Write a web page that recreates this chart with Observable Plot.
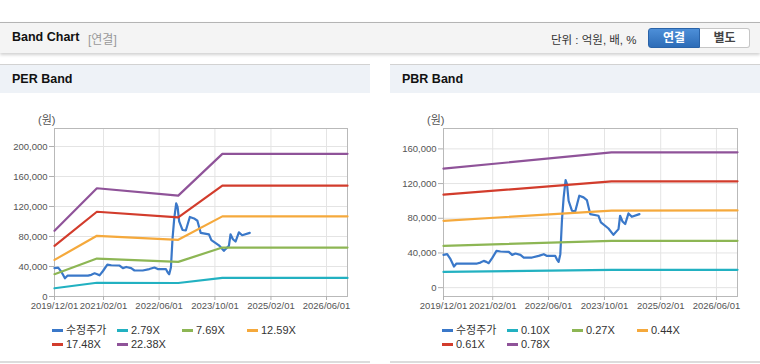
<!DOCTYPE html>
<html><head><meta charset="utf-8">
<script src="https://cdn.jsdelivr.net/npm/d3@7"></script>
<script src="https://cdn.jsdelivr.net/npm/@observablehq/plot@0.6"></script>
<style>
body{margin:0;width:760px;height:364px;overflow:hidden;background:#fff;position:relative;font-family:"Liberation Sans","Noto Sans CJK KR",sans-serif;}
.abs{position:absolute;white-space:nowrap;}
.hdr{left:0;top:22px;width:760px;height:30px;background:#f4f4f4;border-top:1px solid #b4b4b4;box-shadow:0 2px 3px rgba(0,0,0,0.18);}
.ptitle{top:64px;height:28px;background:#eef2f7;border-top:1px solid #d2d2d2;}
.pbottom{top:361px;height:0;border-top:2px solid #dcdcdc;}
.bold{font-weight:bold;color:#111;}
.btn{top:28px;height:18px;line-height:18px;text-align:center;font-size:12px;font-weight:bold;}
.leg{font-size:11px;color:#333;line-height:12px;}
.leg i{display:inline-block;width:11px;height:3px;vertical-align:middle;margin-right:3px;position:relative;top:-1px;}
.unit{font-size:11px;color:#555;}
</style></head><body>
<div class="abs hdr"></div>
<div class="abs bold" style="left:12px;top:30px;font-size:12.5px;">Band Chart</div>
<div class="abs" style="left:88px;top:30px;font-size:12px;color:#999;">[연결]</div>
<div class="abs" style="left:551px;top:31px;font-size:11.5px;color:#333;">단위 : 억원, 배, %</div>
<div class="abs btn" style="left:648px;width:52px;color:#fff;background:linear-gradient(#4d8fd8,#2d6cb7);border:1px solid #2a63a8;border-radius:3px 0 0 3px;box-sizing:border-box;height:20px;">연결</div>
<div class="abs btn" style="left:700px;width:50px;color:#444;background:#fff;border:1px solid #c6c6c6;border-left:none;border-radius:0 3px 3px 0;box-sizing:border-box;height:20px;">별도</div>

<div class="abs ptitle" style="left:0;width:370px;"></div>
<div class="abs ptitle" style="left:390px;width:370px;"></div>
<div class="abs bold" style="left:12px;top:72px;font-size:12.5px;">PER Band</div>
<div class="abs bold" style="left:402px;top:72px;font-size:12.5px;">PBR Band</div>
<div class="abs pbottom" style="left:0;width:370px;"></div>
<div class="abs pbottom" style="left:390px;width:370px;"></div>

<div class="abs unit" style="left:38px;top:111px;">(원)</div>
<div class="abs unit" style="left:427px;top:111px;">(원)</div>

<div id="per" class="abs" style="left:0;top:100px;"></div>
<div id="pbr" class="abs" style="left:390px;top:100px;"></div>
<div id="perLeg"></div>
<div id="pbrLeg"></div>

<script>
// ---- data ----
const xTicks = ["2019-12-01","2021-02-01","2022-06-01","2023-10-01","2025-02-01","2026-06-01"];
const xDomain = ["2019-12-01","2026-12-01"];
const perTicks = [0,40000,80000,120000,160000,200000];
const pbrTicks = [0,40000,80000,120000,160000];

const priceDates = ["2019-12-01","2020-01-02","2020-01-31","2020-03-01","2020-03-23","2020-09-18","2020-10-17","2020-11-15","2020-12-08","2020-12-28","2021-01-27","2021-03-06","2021-04-10","2021-06-21","2021-07-20","2021-08-18","2021-09-30","2021-10-29","2022-01-09","2022-03-08","2022-04-21","2022-05-20","2022-07-30","2022-08-14","2022-08-28","2022-09-12","2022-09-26","2022-10-11","2022-10-28","2022-11-09","2022-11-23","2022-12-22","2023-01-20","2023-02-24","2023-04-02","2023-05-01","2023-05-30","2023-08-10","2023-08-31","2023-11-05","2023-12-18","2024-01-31","2024-02-14","2024-03-06","2024-03-29","2024-04-27","2024-05-26","2024-07-31"];
const priceValues = [37800,38600,32800,24300,27800,27800,28900,30900,29700,28200,34000,42400,41700,41300,37800,39400,37800,34700,34700,36600,38600,36600,36600,32400,29700,38600,77100,104100,124100,119500,100200,88700,88000,106000,104100,101000,84800,82900,75200,68200,60900,67500,82900,76300,73300,85600,81700,84800];

const perBandDates = ["2019-12-01","2020-12-05","2022-11-15","2023-12-05","2026-12-01"];
const per279 = [11000,18300,18000,24800,24800];
const per769 = [29700,50600,46200,65300,65300];
const per1259 = [48800,80900,75600,106800,106800];
const per1748 = [67600,113000,105500,147800,147800];
const per2238 = [87600,144300,134500,190200,190200];

const pbrBandDates = ["2019-12-01","2023-12-01","2026-12-01"];
const pbr010 = [18100,20500,20500];
const pbr027 = [48200,54000,54000];
const pbr044 = [77100,88800,89000];
const pbr061 = [107200,122600,122600];
const pbr078 = [137200,155900,156000];

const perNames = ["수정주가","2.79X","7.69X","12.59X","17.48X","22.38X"];
const pbrNames = ["수정주가","0.10X","0.27X","0.44X","0.61X","0.78X"];
const colors = ["#3a78c9","#22b1c1","#8db654","#f5a93c","#d23c2c","#8f5399"];

// ---- build ----
const rows = (dates, values, series) => dates.map((d,i)=>({date:new Date(d), value:values[i], series}));
const perData = [
  ...rows(priceDates, priceValues, perNames[0]),
  ...rows(perBandDates, per279, perNames[1]),
  ...rows(perBandDates, per769, perNames[2]),
  ...rows(perBandDates, per1259, perNames[3]),
  ...rows(perBandDates, per1748, perNames[4]),
  ...rows(perBandDates, per2238, perNames[5])
];
const pbrData = [
  ...rows(priceDates, priceValues, pbrNames[0]),
  ...rows(pbrBandDates, pbr010, pbrNames[1]),
  ...rows(pbrBandDates, pbr027, pbrNames[2]),
  ...rows(pbrBandDates, pbr044, pbrNames[3]),
  ...rows(pbrBandDates, pbr061, pbrNames[4]),
  ...rows(pbrBandDates, pbr078, pbrNames[5])
];

const fmtDate = d3.utcFormat("%Y/%m/%d");
const fmtNum = d3.format(",");
const xt = xTicks.map(d=>new Date(d));

function chart(data, names, yDomain, yTicks, marginLeft) {
  return Plot.plot({
    width: 370, height: 220,
    marginLeft, marginRight: 23, marginTop: 28, marginBottom: 24,
    style: {fontFamily: '"Liberation Sans", Arial, sans-serif', fontSize: "9.5px", color: "#555", background: "transparent"},
    x: {type: "utc", domain: xDomain.map(d=>new Date(d))},
    y: {domain: yDomain},
    color: {domain: names, range: colors},
    marks: [
      Plot.gridX(xt, {stroke: "#e4e4e4", strokeOpacity: 1}),
      Plot.gridY(yTicks, {stroke: "#e4e4e4", strokeOpacity: 1}),
      Plot.frame({stroke: "#b9b9b9"}),
      Plot.axisX(xt, {tickSize: 4, tickPadding: 2, tickFormat: fmtDate, stroke: "#b0b0b0", fill: "#555", label: null}),
      Plot.axisY(yTicks, {tickSize: 5, tickPadding: 2, tickFormat: fmtNum, stroke: "#b0b0b0", fill: "#555", label: null}),
      Plot.line(data, {x: "date", y: "value", stroke: "series", z: "series", strokeWidth: 2.2})
    ]
  });
}

document.getElementById("per").append(chart(perData, perNames, [0,224000], perTicks, 54));
document.getElementById("pbr").append(chart(pbrData, pbrNames, [-10200,183500], pbrTicks, 53));

function legend(id, names, x0) {
  const el = document.getElementById(id);
  const cols = [0,65,130,195];
  names.forEach((n,i)=>{
    const d = document.createElement("div");
    d.className = "abs leg";
    d.style.left = (x0 + cols[i%4]) + "px";
    d.style.top = (i<4 ? 324 : 338) + "px";
    d.innerHTML = `<i style="background:${colors[i]}"></i>${n}`;
    el.append(d);
  });
}
legend("perLeg", perNames, 52);
legend("pbrLeg", pbrNames, 442);
</script>
</body></html>
